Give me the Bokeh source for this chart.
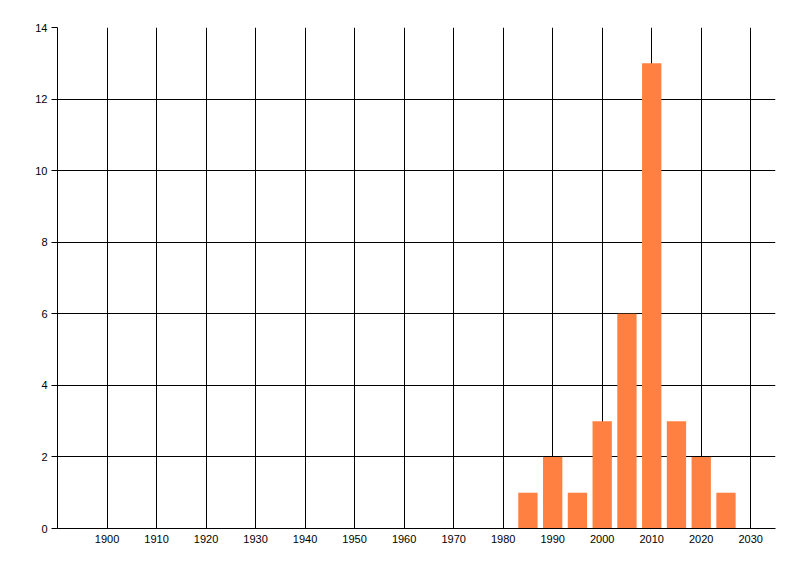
from bokeh.plotting import figure
from bokeh.models import FixedTicker, Range1d
from bokeh.embed import file_html
from bokeh.resources import INLINE

# data
years = [1985, 1990, 1995, 2000, 2005, 2010, 2015, 2020, 2025]
counts = [1, 2, 1, 3, 6, 13, 3, 2, 1]
x_ticks = list(range(1900, 2031, 10))
y_ticks = list(range(0, 15, 2))

p = figure(width=784, height=560, output_backend="svg", toolbar_location=None,
           x_range=Range1d(1890, 2035), y_range=Range1d(0, 14),
           min_border_left=57, min_border_top=27, min_border_right=9, min_border_bottom=32)

p.vbar(x=years, top=counts, width=3.9, bottom=0, color="#FF8040", line_color=None)

p.outline_line_color = None
p.xaxis.ticker = FixedTicker(ticks=x_ticks)
p.yaxis.ticker = FixedTicker(ticks=y_ticks)

for ax in (p.xaxis, p.yaxis):
    ax.axis_line_color = "black"
    ax.major_tick_line_color = "black"
    ax.minor_tick_line_color = None
    ax.major_label_text_font = "Liberation Sans"
    ax.major_label_text_font_size = "11px"
    ax.major_label_text_color = "black"
    ax.major_tick_in = 0

p.yaxis.major_tick_out = 6
p.yaxis.major_label_standoff = 4
p.xaxis.major_tick_out = 0
p.xaxis.major_label_standoff = 6

p.xgrid.grid_line_color = "black"
p.ygrid.grid_line_color = "black"
p.xgrid.grid_line_alpha = 1
p.ygrid.grid_line_alpha = 1

open("out.html", "w").write(file_html(p, INLINE))
